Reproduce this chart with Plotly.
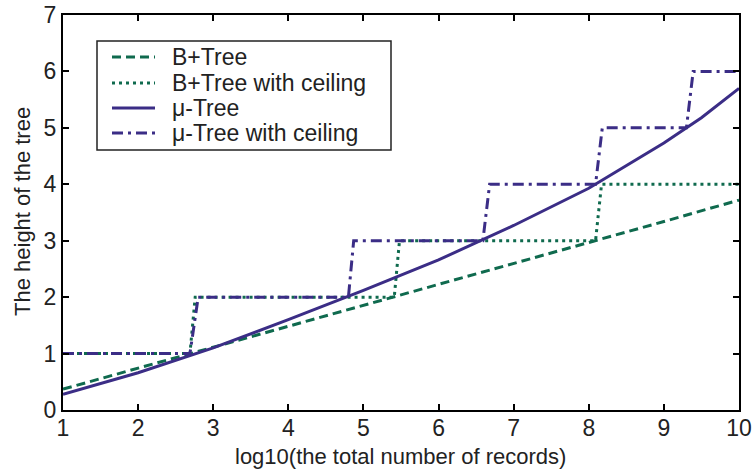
import plotly.graph_objects as go

# B+Tree (dashed)
bt_x = [1, 2, 3, 4, 5, 6, 7, 8, 9, 10]
bt_y = [0.37, 0.74, 1.11, 1.48, 1.85, 2.22, 2.60, 2.97, 3.34, 3.72]

# B+Tree with ceiling (dotted)
btc_x = [1, 2.69, 2.76, 5.41, 5.48, 8.09, 8.17, 10]
btc_y = [1, 1, 2, 2, 3, 3, 4, 4]

# mu-Tree (solid)
mu_x = [1, 2, 3, 4, 5, 6, 7, 8, 9, 9.5, 10]
mu_y = [0.28, 0.66, 1.10, 1.60, 2.12, 2.66, 3.27, 3.93, 4.73, 5.18, 5.70]

# mu-Tree with ceiling (dash-dot)
muc_x = [1, 2.69, 2.80, 4.80, 4.87, 6.59, 6.68, 8.09, 8.18, 9.30, 9.39, 10]
muc_y = [1, 1, 2, 2, 3, 3, 4, 4, 5, 5, 6, 6]

series_names = ["B+Tree", "B+Tree with ceiling", "\u03bc-Tree", "\u03bc-Tree with ceiling"]
x_title = "log10(the total number of records)"
y_title = "The height of the tree"

GREEN = "#0f6a4e"
PURPLE = "#3b2d86"
FONT = "Liberation Sans, Arial, sans-serif"
TXT = "#222222"

styles = [
    dict(color=GREEN, width=3, dash="9px,5px"),
    dict(color=GREEN, width=3, dash="3px,4px"),
    dict(color=PURPLE, width=3, dash="solid"),
    dict(color=PURPLE, width=3, dash="11px,5px,3px,5px"),
]

W, H = 753, 470
ML, MR, MT, MB = 63, 14, 15, 60
PW, PH = W - ML - MR, H - MT - MB


def px2paper(px, py):
    return (px - ML) / PW, (H - MB - py) / PH


fig = go.Figure()
for xs, ys, nm, st in zip([bt_x, btc_x, mu_x, muc_x], [bt_y, btc_y, mu_y, muc_y],
                          series_names, styles):
    fig.add_trace(go.Scatter(x=xs, y=ys, mode="lines", name=nm, line=st, showlegend=False))

# Manual legend (box, line samples, labels)
x0, y0 = px2paper(97, 150)
x1, y1 = px2paper(391, 41)
fig.add_shape(type="rect", xref="paper", yref="paper", x0=x0, y0=y0, x1=x1, y1=y1,
              line=dict(color="#222", width=1.5), fillcolor="white", layer="above")
row_py = [57, 83, 108, 133]
for py, nm, st in zip(row_py, series_names, styles):
    lx0, ly = px2paper(112, py)
    lx1, _ = px2paper(155, py)
    tx, _ = px2paper(170, py)
    fig.add_shape(type="line", xref="paper", yref="paper", x0=lx0, x1=lx1, y0=ly, y1=ly,
                  line=st, layer="above")
    fig.add_annotation(xref="paper", yref="paper", x=tx, y=ly, text=nm, showarrow=False,
                       xanchor="left", yanchor="middle",
                       font=dict(family=FONT, size=23, color=TXT))

# Axis titles
ax_x, ax_y = px2paper(400, 456)
fig.add_annotation(xref="paper", yref="paper", x=ax_x, y=ax_y, text=x_title, showarrow=False,
                   xanchor="center", yanchor="middle", font=dict(family=FONT, size=22, color=TXT))
ay_x, ay_y = px2paper(22, 212)
fig.add_annotation(xref="paper", yref="paper", x=ay_x, y=ay_y, text=y_title, showarrow=False,
                   textangle=-90, xanchor="center", yanchor="middle",
                   font=dict(family=FONT, size=22, color=TXT))

axis_common = dict(showgrid=False, zeroline=False, showline=True, linecolor="black",
                   linewidth=2, mirror="ticks", ticks="inside", ticklen=6, tickwidth=2,
                   tickcolor="black", dtick=1, automargin=False,
                   tickfont=dict(family=FONT, size=23, color=TXT))

fig.update_xaxes(range=[1, 10], ticklabelstandoff=-4, **axis_common)
fig.update_yaxes(range=[0, 7], **axis_common)

fig.update_layout(
    width=W, height=H,
    margin=dict(l=ML, r=MR, t=MT, b=MB),
    plot_bgcolor="white", paper_bgcolor="white",
    showlegend=False,
)

fig.write_html("out.html", config={"displayModeBar": False},
               post_script="document.body.style.margin='0px';")
